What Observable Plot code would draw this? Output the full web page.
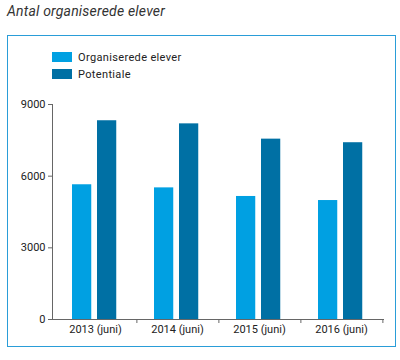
<!DOCTYPE html>
<html>
<head>
<meta charset="utf-8">
<script src="https://cdn.jsdelivr.net/npm/d3@7"></script>
<script src="https://cdn.jsdelivr.net/npm/@observablehq/plot@0.6"></script>
<style>
  html, body { margin: 0; padding: 0; background: #fff; }
  body { width: 400px; height: 360px; position: relative; overflow: hidden; font-family: Roboto, "Noto Sans", sans-serif; }
  #title { position: absolute; left: 7px; top: 3px; font-size: 14px; font-style: italic; color: #333; letter-spacing: 0.2px; }
  #box { position: absolute; left: 7px; top: 35px; width: 387px; height: 310px; border: 1.5px solid #2a9dd8; }
  #legend { position: absolute; left: 52px; top: 52px; font-size: 11px; color: #222; z-index: 2; letter-spacing: 0.35px; }
  .row { display: flex; align-items: center; height: 10px; margin-bottom: 7px; }
  .sw { width: 20px; height: 10px; margin-right: 6px; }
  #chart { position: absolute; left: 0; top: 0; z-index: 1; }
</style>
</head>
<body>
<div id="title">Antal organiserede elever</div>
<div id="box"></div>
<div id="legend"></div>
<div id="chart"></div>
<script>
const years = ["2013 (juni)", "2014 (juni)", "2015 (juni)", "2016 (juni)"];
const series = ["Organiserede elever", "Potentiale"];
const organiserede = [5640, 5510, 5150, 4980];
const potentiale = [8320, 8190, 7550, 7400];
const yTicks = [0, 3000, 6000, 9000];
const colors = ["#00a0e2", "#0070a4"];

const legend = document.getElementById("legend");
series.forEach((s, i) => {
  const row = document.createElement("div");
  row.className = "row";
  const sw = document.createElement("div");
  sw.className = "sw";
  sw.style.background = colors[i];
  const t = document.createElement("span");
  t.textContent = s;
  row.append(sw, t);
  legend.append(row);
});

const width = 400, height = 360, mL = 52, mR = 17;
const step = (width - mL - mR) / years.length;

const plot = Plot.plot({
  width, height,
  marginLeft: mL, marginRight: mR, marginTop: 104, marginBottom: 41,
  style: { fontFamily: "Roboto, 'Noto Sans', sans-serif", fontSize: "11px", color: "#222", background: "transparent" },
  x: { domain: years, padding: 0, axis: null },
  y: { domain: [0, 9000], axis: null },
  marks: [
    Plot.barY(years, { x: d => d, y: (d, i) => organiserede[i], fill: colors[0], insetLeft: 18, insetRight: step - 38 }),
    Plot.barY(years, { x: d => d, y: (d, i) => potentiale[i], fill: colors[1], insetLeft: 43, insetRight: step - 63 }),
    Plot.frame({ anchor: "left", stroke: "#666" }),
    Plot.frame({ anchor: "bottom", stroke: "#666" }),
    Plot.axisY({ ticks: yTicks, tickSize: 4, tickPadding: 3, tickFormat: d => String(d), stroke: "#666", fill: "#222" }),
    Plot.axisX({ tickSize: 0, tickPadding: 6, fill: "#222" }),
    Plot.axisX({ tickSize: 4, tickFormat: () => "", stroke: "#666", dx: step / 2 })
  ]
});
document.getElementById("chart").append(plot);
</script>
</body>
</html>
